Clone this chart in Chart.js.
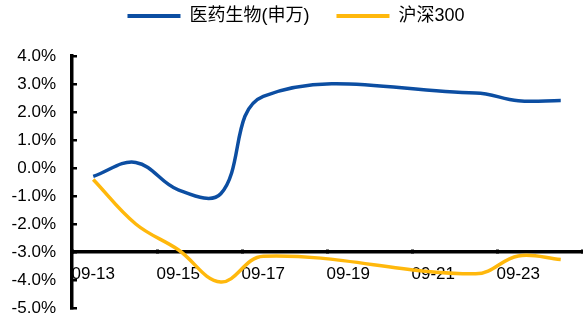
<!DOCTYPE html>
<html>
<head>
<meta charset="utf-8">
<script src="https://cdn.jsdelivr.net/npm/chart.js@4"></script>
<style>
  html, body { margin: 0; padding: 0; background: #ffffff; }
  #wrap { width: 583px; height: 320px; }
</style>
</head>
<body>
<div id="wrap"><canvas id="chart" width="583" height="320"></canvas></div>
<script>
// Dates (calendar days, non-trading days left empty)
const dates = ['09-13', '09-14', '09-15', '09-16', '09-17', '09-18',
               '09-19', '09-20', '09-21', '09-22', '09-23', '09-24'];

// Daily cumulative change, %
const pharma = [-0.30, 0.20, -0.78, -0.92, 2.56, null, null, null, null, 2.68, 2.40, 2.41];
const csi300 = [-0.41, -2.00, -2.92, -4.07, -3.15, null, null, null, null, -3.78, -3.14, -3.27];

// Y ticks
const yMin = -5;
const yMax = 4;
const yStep = 1;

const BLUE = '#0C4EA2';
const YELLOW = '#FFB80C';
const FONT = "'Liberation Sans', Arial, 'Noto Sans CJK SC', sans-serif";

const ctx = document.getElementById('chart').getContext('2d');

new Chart(ctx, {
  type: 'line',
  data: {
    labels: dates,
    datasets: [
      {
        label: '医药生物(申万)',
        data: pharma,
        borderColor: BLUE,
        backgroundColor: BLUE,
        borderWidth: 3.5,
        tension: 0.38,
        pointRadius: 0,
        spanGaps: true
      },
      {
        label: '沪深300',
        data: csi300,
        borderColor: YELLOW,
        backgroundColor: YELLOW,
        borderWidth: 3.5,
        tension: 0.38,
        pointRadius: 0,
        spanGaps: true
      }
    ]
  },
  options: {
    responsive: false,
    animation: false,
    devicePixelRatio: 1,
    layout: { padding: { left: 10, right: 1, top: 0, bottom: 0 } },
    plugins: {
      tooltip: { enabled: false },
      legend: {
        position: 'top',
        labels: {
          font: { family: FONT, size: 18 },
          color: '#000000',
          boxWidth: 53,
          boxHeight: 4,
          padding: 7,
          generateLabels: (chart) => {
            const items = Chart.defaults.plugins.legend.labels.generateLabels(chart);
            // no outline on the legend line; wider gap after the first entry
            items.forEach((it, i) => {
              it.lineWidth = 0;
              if (i < items.length - 1) it.text += '    ';
            });
            return items;
          }
        }
      }
    },
    scales: {
      x: {
        type: 'category',
        position: { y: -3 },
        offset: true,
        // axis sits inside the plot at -3%, so it takes no room of its own
        afterFit: (scale) => {
          scale.paddingLeft = 0;
          scale.paddingRight = 0;
          scale.paddingTop = 0;
          scale.paddingBottom = 0;
          scale.height = 0;
        },
        border: { display: true, color: '#000000', width: 3.5 },
        grid: {
          offset: true,
          drawOnChartArea: false,
          drawTicks: true,
          tickLength: -4,
          lineWidth: 3,
          color: (c) => (c.index === undefined || c.index % 2 === 0) ? '#000000' : 'rgba(0,0,0,0)'
        },
        ticks: {
          autoSkip: false,
          maxRotation: 0,
          padding: 16,
          color: '#000000',
          font: { family: FONT, size: 17 },
          callback: function (val, i) { return i % 2 === 0 ? this.getLabelForValue(val) : ''; }
        }
      },
      // empty top axis: only keeps a gap between legend and plot
      xGap: {
        type: 'category',
        position: 'top',
        border: { display: false },
        grid: { display: false },
        ticks: { display: false },
        afterFit: (scale) => { scale.height = 21; }
      },
      y: {
        min: yMin,
        max: yMax,
        // fixed box: axis line at x 72, plot bottom at 308
        afterFit: (scale) => {
          scale.width = 62;
          scale.paddingTop = 10;
          scale.paddingBottom = 12;
        },
        border: { display: true, color: '#000000', width: 3.5 },
        grid: {
          drawOnChartArea: false,
          drawTicks: true,
          tickLength: -5,
          lineWidth: 2.5,
          color: '#000000'
        },
        ticks: {
          stepSize: yStep,
          padding: 21,
          color: '#000000',
          font: { family: FONT, size: 17 },
          callback: (v) => v.toFixed(1) + '%'
        }
      }
    }
  }
});
</script>
</body>
</html>
